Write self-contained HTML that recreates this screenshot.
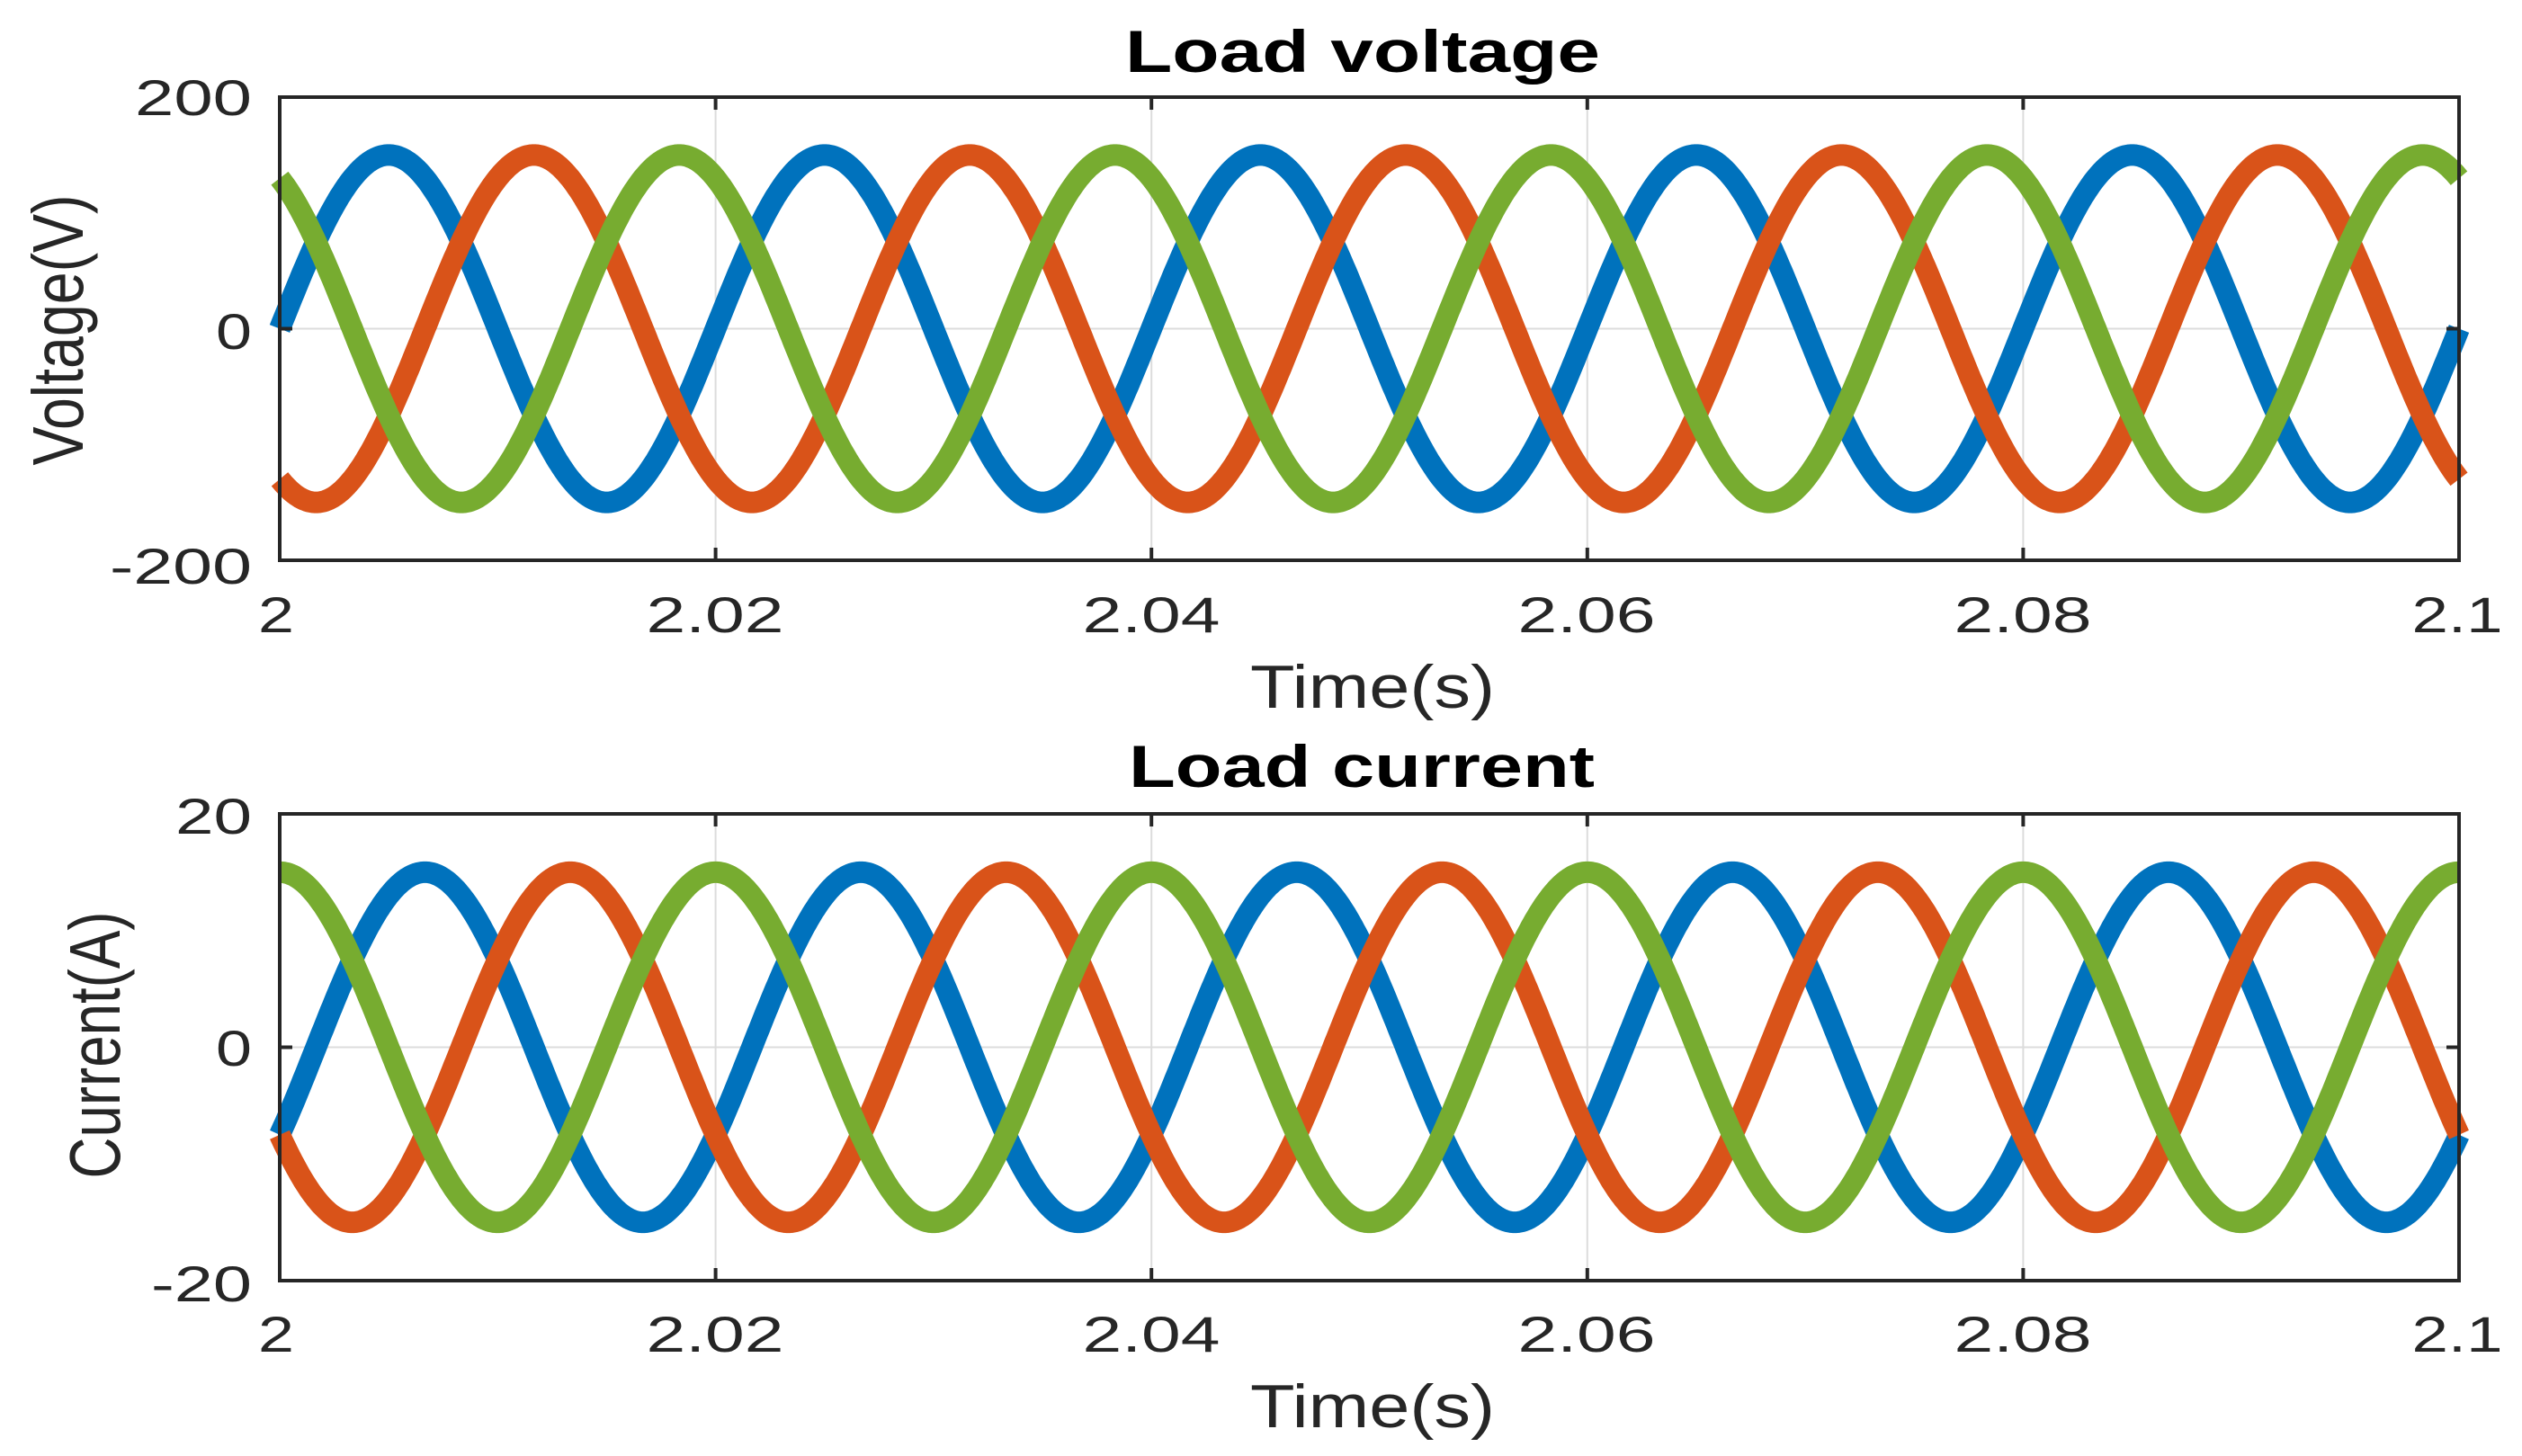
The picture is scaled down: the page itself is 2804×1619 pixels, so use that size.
<!DOCTYPE html>
<html><head><meta charset="utf-8"><style>
html,body{margin:0;padding:0;background:#fff;}
svg{display:block;}
text{font-family:"Liberation Sans",Arial,sans-serif;fill:#262626;}
</style></head><body>
<svg id="s" width="2804" height="1619" viewBox="0 0 2804 1619" xmlns="http://www.w3.org/2000/svg">
<rect width="2804" height="1619" fill="#fff"/>
<g id="grid" stroke="#dcdcdc" stroke-width="2"></g>
<g id="curves" fill="none" stroke-width="24" stroke-linejoin="round" stroke-linecap="butt"></g>
<g id="axes" stroke="#262626" stroke-width="4" fill="none"></g>

<text x="1515" y="80" font-size="66" font-weight="bold" text-anchor="middle" textLength="528" lengthAdjust="spacingAndGlyphs" style="fill:#000">Load voltage</text>
<text x="280" y="128" font-size="56" text-anchor="end" textLength="130" lengthAdjust="spacingAndGlyphs">200</text>
<text x="280" y="388" font-size="56" text-anchor="end" textLength="40" lengthAdjust="spacingAndGlyphs">0</text>
<text x="280" y="649" font-size="56" text-anchor="end" textLength="158" lengthAdjust="spacingAndGlyphs">-200</text>
<text x="307" y="703" font-size="56" text-anchor="middle" textLength="40" lengthAdjust="spacingAndGlyphs">2</text>
<text x="795" y="703" font-size="56" text-anchor="middle" textLength="153" lengthAdjust="spacingAndGlyphs">2.02</text>
<text x="1280" y="703" font-size="56" text-anchor="middle" textLength="153" lengthAdjust="spacingAndGlyphs">2.04</text>
<text x="1764" y="703" font-size="56" text-anchor="middle" textLength="153" lengthAdjust="spacingAndGlyphs">2.06</text>
<text x="2249" y="703" font-size="56" text-anchor="middle" textLength="153" lengthAdjust="spacingAndGlyphs">2.08</text>
<text x="2732" y="703" font-size="56" text-anchor="middle" textLength="101" lengthAdjust="spacingAndGlyphs">2.1</text>
<text x="1526" y="787" font-size="68" text-anchor="middle" textLength="272" lengthAdjust="spacingAndGlyphs">Time(s)</text>
<text transform="translate(92,367) rotate(-90)" font-size="80" text-anchor="middle" textLength="301" lengthAdjust="spacingAndGlyphs">Voltage(V)</text>

<text x="1514" y="875" font-size="66" font-weight="bold" text-anchor="middle" textLength="518" lengthAdjust="spacingAndGlyphs" style="fill:#000">Load current</text>
<text x="280" y="927" font-size="56" text-anchor="end" textLength="85" lengthAdjust="spacingAndGlyphs">20</text>
<text x="280" y="1185" font-size="56" text-anchor="end" textLength="40" lengthAdjust="spacingAndGlyphs">0</text>
<text x="280" y="1447" font-size="56" text-anchor="end" textLength="112" lengthAdjust="spacingAndGlyphs">-20</text>
<text x="307" y="1503" font-size="56" text-anchor="middle" textLength="40" lengthAdjust="spacingAndGlyphs">2</text>
<text x="795" y="1503" font-size="56" text-anchor="middle" textLength="153" lengthAdjust="spacingAndGlyphs">2.02</text>
<text x="1280" y="1503" font-size="56" text-anchor="middle" textLength="153" lengthAdjust="spacingAndGlyphs">2.04</text>
<text x="1764" y="1503" font-size="56" text-anchor="middle" textLength="153" lengthAdjust="spacingAndGlyphs">2.06</text>
<text x="2249" y="1503" font-size="56" text-anchor="middle" textLength="153" lengthAdjust="spacingAndGlyphs">2.08</text>
<text x="2732" y="1503" font-size="56" text-anchor="middle" textLength="101" lengthAdjust="spacingAndGlyphs">2.1</text>
<text x="1526" y="1587" font-size="68" text-anchor="middle" textLength="272" lengthAdjust="spacingAndGlyphs">Time(s)</text>
<text transform="translate(133,1162) rotate(-90)" font-size="80" text-anchor="middle" textLength="297" lengthAdjust="spacingAndGlyphs">Current(A)</text>
</svg>
<script>
(function(){
var NS="http://www.w3.org/2000/svg";
var L=311,R=2734;
var plots=[
 {top:108,bot:623,range:200,amp:150,ph:[0,-120,120]},
 {top:905,bot:1424,range:20,amp:15,ph:[-30,-150,90]}
];
var cols=["#0072BD","#D95319","#77AC30"];
var grid=document.getElementById("grid"),curves=document.getElementById("curves"),axes=document.getElementById("axes");
function el(tag,attrs,parent){var e=document.createElementNS(NS,tag);for(var k in attrs)e.setAttribute(k,attrs[k]);parent.appendChild(e);return e;}
plots.forEach(function(p){
 var zero=(p.top+p.bot)/2, sc=(p.bot-p.top)/(2*p.range);
 for(var i=1;i<5;i++){var x=L+(R-L)*i/5;el("line",{x1:x,y1:p.top,x2:x,y2:p.bot},grid);}
 el("line",{x1:L,y1:zero,x2:R,y2:zero},grid);
 p.ph.forEach(function(ph,ci){
  var d="";
  for(var k=0;k<=1200;k++){
   var t=0.1*k/1200, x=L+(R-L)*k/1200;
   var v=p.amp*Math.sin(2*Math.PI*50*t+ph*Math.PI/180);
   d+=(k?"L":"M")+x.toFixed(1)+","+(zero-v*sc).toFixed(1);
  }
  el("path",{d:d,stroke:cols[ci]},curves);
 });
 el("rect",{x:L,y:p.top,width:R-L,height:p.bot-p.top},axes);
 for(var i=0;i<=5;i++){var x=L+(R-L)*i/5;
  el("line",{x1:x,y1:p.top,x2:x,y2:p.top+14},axes);
  el("line",{x1:x,y1:p.bot,x2:x,y2:p.bot-14},axes);}
 [p.top,zero,p.bot].forEach(function(y){
  el("line",{x1:L,y1:y,x2:L+14,y2:y},axes);
  el("line",{x1:R,y1:y,x2:R-14,y2:y},axes);});
});
})();
</script>
</body></html>
